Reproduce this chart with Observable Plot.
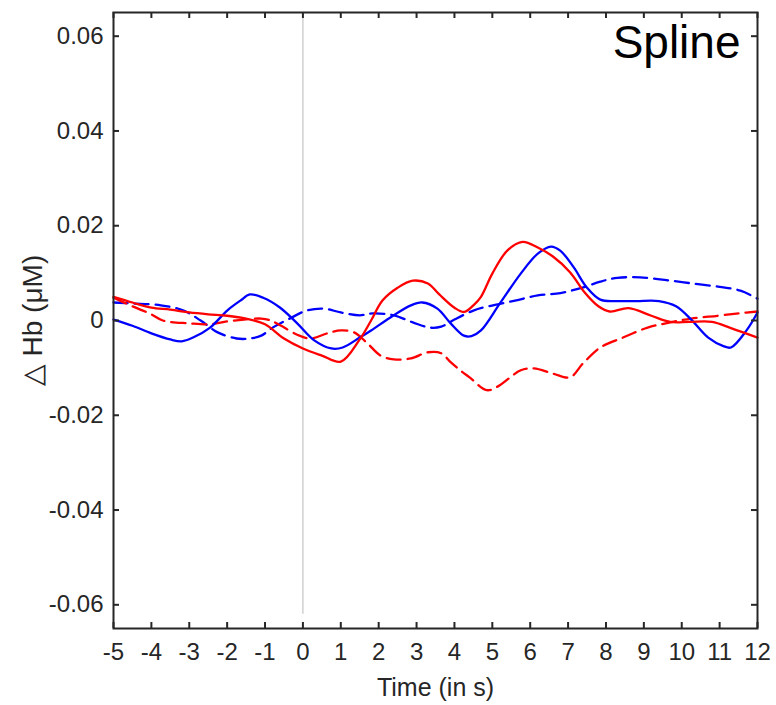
<!DOCTYPE html>
<html><head><meta charset="utf-8">
<script src="https://cdn.jsdelivr.net/npm/d3@7"></script>
<script src="https://cdn.jsdelivr.net/npm/@observablehq/plot@0.6"></script>
<style>body{margin:0;background:#fff}</style>
</head><body><div id="chart"></div>
<script>
// ---- data ----
const xTicks = [-5,-4,-3,-2,-1,0,1,2,3,4,5,6,7,8,9,10,11,12];
const xTickLabels = ["-5","-4","-3","-2","-1","0","1","2","3","4","5","6","7","8","9","10","11","12"];
const yTicks = [-0.06,-0.04,-0.02,0,0.02,0.04,0.06];
const yTickLabels = ["-0.06","-0.04","-0.02","0","0.02","0.04","0.06"];
const xLabel = "Time (in s)";
const yLabel = "\u25B3 Hb (\u03BCM)";
const title = "Spline";
const onsetLine = [{t: 0, from: -0.062, to: 0.065}];

const redSolidT = [-5,-4.5,-4,-3.5,-3,-2.5,-2,-1.5,-1,-0.5,0,0.5,1,1.5,1.8,2.1,2.5,2.9,3.3,3.6,4,4.25,4.5,4.7,5,5.4,5.8,6.2,6.6,7.05,7.45,7.8,8.1,8.6,9.2,9.7,10.2,10.8,11.3,12];
const redSolidV = [0.005,0.0038,0.0027,0.0023,0.0017,0.0013,0.001,0.0004,-0.0008,-0.0038,-0.0059,-0.0074,-0.0087,-0.004,0,0.0042,0.0069,0.0084,0.0078,0.0055,0.0027,0.0018,0.0032,0.0050,0.0099,0.0148,0.0166,0.0154,0.0135,0.0102,0.0058,0.003,0.0019,0.0026,0.001,-0.0003,-0.0003,-0.0003,-0.0016,-0.0036];

const redDashT = [-5,-4.5,-4,-3.7,-3,-2.45,-2,-1.55,-1.1,-0.85,-0.6,-0.15,0.2,0.65,1,1.35,1.7,2.05,2.4,2.85,3.3,3.65,3.9,4.15,4.4,4.85,5.15,5.75,6.1,6.6,7.05,7.4,7.85,8.45,9.1,9.7,10.25,10.95,11.5,12];
const redDashV = [0.0048,0.003,0.0013,0,-0.0006,-0.0008,-0.0002,0.0002,0.0004,0,-0.001,-0.003,-0.0038,-0.0027,-0.0021,-0.0025,-0.0048,-0.0074,-0.0082,-0.008,-0.0067,-0.0069,-0.0088,-0.0105,-0.012,-0.0147,-0.0139,-0.0105,-0.0101,-0.0112,-0.012,-0.009,-0.0057,-0.0036,-0.0015,-0.0004,0.0004,0.001,0.0015,0.0019];

const blueSolidT = [-5,-4.5,-4,-3.5,-3.2,-2.9,-2.45,-2,-1.65,-1.4,-1.05,-0.6,-0.15,0.3,0.75,1.05,1.5,1.8,2.3,2.85,3.15,3.55,3.9,4.25,4.45,4.7,5.2,5.75,6.2,6.55,6.8,7.15,7.5,7.85,8.3,8.8,9.4,9.85,10.25,10.7,11.1,11.3,11.7,12];
const blueSolidV = [0.0002,-0.0011,-0.0027,-0.004,-0.0044,-0.0036,-0.0015,0.0021,0.0042,0.0055,0.0048,0.0027,-0.0006,-0.0042,-0.0059,-0.0057,-0.0036,-0.0021,0.0006,0.0032,0.0038,0.0025,-0.0006,-0.0032,-0.0033,-0.0021,0.0036,0.0099,0.0141,0.0156,0.0147,0.0112,0.0069,0.0044,0.0041,0.0041,0.0041,0.003,0.0002,-0.0036,-0.0054,-0.0057,-0.0022,0.0017];

const blueDashT = [-5,-4.5,-3.75,-3.15,-2.7,-2.25,-1.75,-1.4,-1.1,-0.8,-0.35,0.1,0.55,1,1.5,1.85,2.4,2.9,3.35,3.65,4.0,4.5,4.9,5.6,6.2,6.8,7.4,7.85,8.3,8.9,9.6,10.3,11.0,11.55,12];
const blueDashV = [0.0038,0.0036,0.0032,0.0021,0,-0.0025,-0.0038,-0.0038,-0.0032,-0.0015,0.0004,0.0021,0.0025,0.0017,0.0011,0.0015,0.0011,-0.0004,-0.0015,-0.0013,0.0002,0.0021,0.003,0.0042,0.0053,0.0058,0.007,0.0082,0.009,0.0091,0.0085,0.0078,0.0071,0.0063,0.0046];

// ---- build ----
const toRows = (T, V) => T.map((t, i) => ({t, v: V[i]}));
const W = 776, H = 705, mL = 113, mR = 19, mT = 12, mB = 77;
const plotW = W - mL - mR, plotH = H - mT - mB;
const ink = "#262626";
const tickLen = 6;

const chart = Plot.plot({
  width: W, height: H,
  marginLeft: mL, marginRight: mR, marginTop: mT, marginBottom: mB,
  style: {fontFamily: "'Liberation Sans', Arial, Helvetica, sans-serif", background: "white", color: ink},
  x: {domain: [-5, 12]},
  y: {domain: [-0.065, 0.065]},
  marks: [
    Plot.ruleX(onsetLine, {x: "t", y1: "from", y2: "to", stroke: "#c4c4c4", strokeWidth: 1.2}),
    Plot.line(toRows(blueDashT, blueDashV), {x: "t", y: "v", stroke: "#0000ff", strokeWidth: 2.3, strokeDasharray: "14,7", curve: "catmull-rom"}),
    Plot.line(toRows(redDashT, redDashV), {x: "t", y: "v", stroke: "#ff0000", strokeWidth: 2.3, strokeDasharray: "14,7", curve: "catmull-rom"}),
    Plot.line(toRows(blueSolidT, blueSolidV), {x: "t", y: "v", stroke: "#0000ff", strokeWidth: 2.3, curve: "catmull-rom"}),
    Plot.line(toRows(redSolidT, redSolidV), {x: "t", y: "v", stroke: "#ff0000", strokeWidth: 2.3, curve: "catmull-rom"}),
    Plot.frame({stroke: ink, strokeWidth: 2}),
    Plot.tickX(xTicks, {x: d => d, insetTop: plotH - tickLen, stroke: ink, strokeWidth: 2}),
    Plot.tickX(xTicks, {x: d => d, insetBottom: plotH - tickLen, stroke: ink, strokeWidth: 2}),
    Plot.tickY(yTicks, {y: d => d, insetRight: plotW - tickLen, stroke: ink, strokeWidth: 2}),
    Plot.tickY(yTicks, {y: d => d, insetLeft: plotW - tickLen, stroke: ink, strokeWidth: 2}),
    Plot.axisX(xTicks, {tickSize: 0, tickPadding: 14, fontSize: 24, fill: ink, label: null,
      tickFormat: d => xTickLabels[xTicks.indexOf(d)]}),
    Plot.axisY(yTicks, {tickSize: 0, tickPadding: 10, fontSize: 24, fill: ink, label: null,
      tickFormat: d => yTickLabels[yTicks.indexOf(d)]}),
    Plot.text([xLabel], {text: d => d, frameAnchor: "bottom", textAnchor: "middle", lineAnchor: "middle", dy: 59, fontSize: 25, fill: ink}),
    Plot.text([yLabel], {text: d => d, frameAnchor: "left", textAnchor: "middle", rotate: -90, lineAnchor: "middle", dx: -80, fontSize: 28, fill: ink}),
    Plot.text([title], {text: d => d, frameAnchor: "top-right", textAnchor: "end", lineAnchor: "top", dx: -17, dy: 13, fontSize: 46, fill: "black"})
  ]
});
document.getElementById("chart").appendChild(chart);
</script>
</body></html>
